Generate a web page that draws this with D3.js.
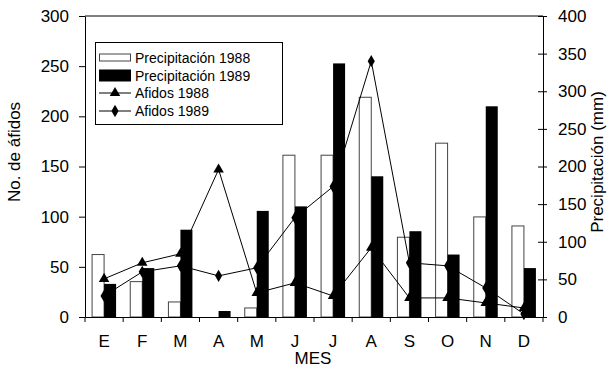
<!DOCTYPE html>
<html>
<head>
<meta charset="utf-8">
<script src="https://cdn.jsdelivr.net/npm/d3@7"></script>
<style>
  body { margin: 0; background: #fff; }
  svg { display: block; font-family: "Liberation Sans", Arial, sans-serif; }
</style>
</head>
<body>
<svg id="chart" width="608" height="368"></svg>
<script>
const months = ['E', 'F', 'M', 'A', 'M', 'J', 'J', 'A', 'S', 'O', 'N', 'D']
// precipitation in mm (right axis)
const precip1988 = [83, 47, 20, 0, 12, 215, 215, 292, 106, 231, 133, 121]
const precip1989 = [44, 65, 116, 8, 141, 147, 337, 187, 114, 83, 280, 65]
// aphids count (left axis)
const afidos1988 = [38, 54, 63, 147, 24, 34, 21, 69, 19, 19, 14, 9]
const afidos1989 = [21, 45, 51, 41, 49, 99, 130, 255, 54, 51, 29, 3]
const leftTicks = [0, 50, 100, 150, 200, 250, 300]
const rightTicks = [0, 50, 100, 150, 200, 250, 300, 350, 400]

const svg = d3.select('#chart')
const pLeft = 85, pRight = 543, pTop = 16, pBottom = 317

const x = d3.scaleBand().domain(d3.range(12)).range([pLeft, pRight])
const yL = d3.scaleLinear().domain([0, 300]).range([pBottom, pTop])
const yR = d3.scaleLinear().domain([0, 400]).range([pBottom, pTop])
const barW = 12

// bars
svg.append('g')
  .selectAll('rect')
  .data(precip1988)
  .join('rect')
  .attr('x', (d, i) => x(i) + x.bandwidth() / 2 - barW)
  .attr('y', d => yR(d))
  .attr('width', barW)
  .attr('height', d => pBottom - yR(d))
  .attr('fill', '#fff')
  .attr('stroke', '#444')
  .attr('stroke-width', 1)

svg.append('g')
  .selectAll('rect')
  .data(precip1989)
  .join('rect')
  .attr('x', (d, i) => x(i) + x.bandwidth() / 2)
  .attr('y', d => yR(d))
  .attr('width', barW)
  .attr('height', d => pBottom - yR(d))
  .attr('fill', '#000')

// lines
const cx = i => x(i) + x.bandwidth() / 2
const line = d3.line().x((d, i) => cx(i)).y(d => yL(d))
const tri = d3.symbol().type(d3.symbolTriangle).size(48)
const dia = d3.symbol().type(d3.symbolDiamond).size(44)

const series = [
  { data: afidos1988, sym: tri },
  { data: afidos1989, sym: dia }
]
series.forEach(s => {
  svg.append('path')
    .attr('d', line(s.data))
    .attr('fill', 'none')
    .attr('stroke', '#000')
    .attr('stroke-width', 1)
  svg.append('g')
    .selectAll('path')
    .data(s.data)
    .join('path')
    .attr('d', s.sym)
    .attr('transform', (d, i) => `translate(${cx(i)},${yL(d)})`)
    .attr('fill', '#000')
})

// axes
svg.append('g')
  .attr('transform', `translate(${pLeft},0)`)
  .call(d3.axisLeft(yL).tickValues(leftTicks).tickSize(6).tickSizeOuter(0).tickPadding(10))
const axR = svg.append('g')
  .attr('transform', `translate(${pRight},0)`)
  .call(d3.axisRight(yR).tickValues(rightTicks).tickSize(4).tickSizeOuter(0).tickPadding(11))
axR.selectAll('.tick line').attr('x1', -5)
svg.append('g')
  .attr('transform', `translate(0,${pBottom})`)
  .call(d3.axisBottom(x).tickValues([]).tickSizeOuter(0))

// x ticks at band edges
svg.append('g')
  .selectAll('line')
  .data(d3.range(13))
  .join('line')
  .attr('x1', i => pLeft + i * x.step())
  .attr('x2', i => pLeft + i * x.step())
  .attr('y1', pBottom)
  .attr('y2', pBottom + 5)
  .attr('stroke', '#000')

svg.append('g')
  .selectAll('text')
  .data(months)
  .join('text')
  .attr('x', (d, i) => cx(i))
  .attr('y', 346.5)
  .attr('text-anchor', 'middle')
  .attr('font-size', 17)
  .text(d => d)

// frame top
svg.append('line')
  .attr('x1', pLeft).attr('x2', pRight)
  .attr('y1', pTop).attr('y2', pTop)
  .attr('stroke', '#000')

svg.selectAll('.domain').attr('stroke', '#000')
svg.selectAll('.tick text').attr('font-size', 17).attr('fill', '#000')
  .attr('font-family', '"Liberation Sans", Arial, sans-serif')

// titles
svg.append('text')
  .attr('x', (pLeft + pRight) / 2 - 1)
  .attr('y', 364)
  .attr('text-anchor', 'middle')
  .attr('font-size', 17)
  .text('MES')

svg.append('text')
  .attr('transform', 'translate(20,152) rotate(-90)')
  .attr('text-anchor', 'middle')
  .attr('font-size', 17)
  .text('No. de áfidos')

svg.append('text')
  .attr('transform', 'translate(603,162) rotate(-90)')
  .attr('text-anchor', 'middle')
  .attr('font-size', 17)
  .text('Precipitación (mm)')

// legend
const lg = svg.append('g')
lg.append('rect')
  .attr('x', 95.5).attr('y', 42.5)
  .attr('width', 187).attr('height', 82)
  .attr('fill', '#fff').attr('stroke', '#000')

const legendItems = ['Precipitación 1988', 'Precipitación 1989', 'Afidos 1988', 'Afidos 1989']
const rowY = [57.5, 75.5, 93, 111]
legendItems.forEach((t, i) => {
  const yy = rowY[i]
  if (i === 0) {
    lg.append('rect').attr('x', 99.5).attr('y', yy - 3.5).attr('width', 31).attr('height', 7)
      .attr('fill', '#fff').attr('stroke', '#444')
  } else if (i === 1) {
    lg.append('rect').attr('x', 99).attr('y', yy - 6).attr('width', 32).attr('height', 12)
      .attr('fill', '#000')
  } else {
    lg.append('line').attr('x1', 99).attr('x2', 131).attr('y1', yy).attr('y2', yy)
      .attr('stroke', '#000')
    lg.append('path').attr('d', i === 2 ? tri : dia)
      .attr('transform', `translate(115,${yy})`).attr('fill', '#000')
  }
  lg.append('text')
    .attr('x', 135).attr('y', yy + 5)
    .attr('font-size', 14)
    .text(t)
})
</script>
</body>
</html>
